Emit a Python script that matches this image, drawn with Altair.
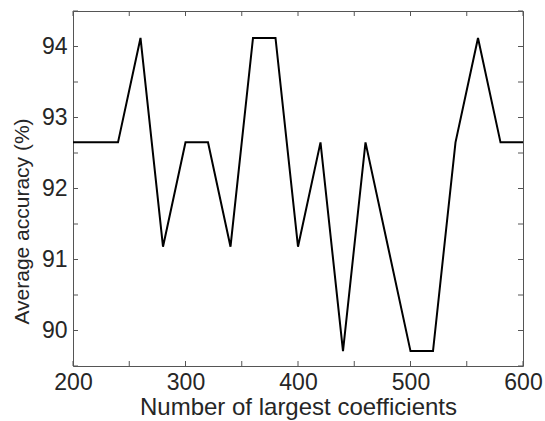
import altair as alt
import pandas as pd

# data
n_coeffs = [200, 220, 240, 260, 280, 300, 320, 340, 360, 380, 400,
            420, 440, 460, 480, 500, 520, 540, 560, 580, 600]
accuracy = [92.65, 92.65, 92.65, 94.12, 91.18, 92.65, 92.65, 91.18, 94.12, 94.12, 91.18,
            92.65, 89.71, 92.65, 91.18, 89.71, 89.71, 92.65, 94.12, 92.65, 92.65]
x_ticks = [200, 250, 300, 350, 400, 450, 500, 550, 600]
x_labels = [200, 300, 400, 500, 600]
y_ticks = [89.5, 90, 90.5, 91, 91.5, 92, 92.5, 93, 93.5, 94, 94.5]
y_labels = [90, 91, 92, 93, 94]

W, H = 450, 355
TL = 5
FONT = "Liberation Sans"
TXT = "#262626"
AX = "#555555"

df = pd.DataFrame({"n": n_coeffs, "acc": accuracy})
dx = pd.DataFrame({"n": x_ticks})
dy = pd.DataFrame({"acc": y_ticks})

xs = alt.Scale(domain=[200, 600], nice=False, zero=False)
ys = alt.Scale(domain=[89.5, 94.5], nice=False, zero=False)

x_axis = alt.Axis(
    title="Number of largest coefficients", values=x_labels, format="d",
    ticks=False, grid=False, domain=False, labelPadding=5,
    labelFontSize=23, titleFontSize=24, titlePadding=1,
    labelFont=FONT, titleFont=FONT, labelColor=TXT, titleColor=TXT,
    titleFontWeight="normal", labelFlush=False)
y_axis = alt.Axis(
    title="Average accuracy (%)", values=y_labels, format="d",
    ticks=False, grid=False, domain=False, labelPadding=6,
    labelFontSize=23, titleFontSize=21, titleX=-45, titleY=210,
    titleAngle=270, titleAlign="center", titleBaseline="alphabetic",
    labelFont=FONT, titleFont=FONT, labelColor=TXT, titleColor=TXT,
    titleFontWeight="normal", labelFlush=False)

line = alt.Chart(df).mark_line(color="black", strokeWidth=2).encode(
    x=alt.X("n:Q", scale=xs, axis=x_axis),
    y=alt.Y("acc:Q", scale=ys, axis=y_axis),
)

bottom = alt.Chart(dx).mark_rule(color=AX, strokeWidth=1).encode(
    x=alt.X("n:Q", scale=xs, axis=x_axis), y=alt.value(H - TL), y2=alt.value(H))
top = alt.Chart(dx).mark_rule(color=AX, strokeWidth=1).encode(
    x=alt.X("n:Q", scale=xs, axis=x_axis), y=alt.value(0), y2=alt.value(TL))
left = alt.Chart(dy).mark_rule(color=AX, strokeWidth=1).encode(
    y=alt.Y("acc:Q", scale=ys, axis=y_axis), x=alt.value(0), x2=alt.value(TL))
right = alt.Chart(dy).mark_rule(color=AX, strokeWidth=1).encode(
    y=alt.Y("acc:Q", scale=ys, axis=y_axis), x=alt.value(W - TL), x2=alt.value(W))

chart = alt.layer(line, bottom, top, left, right).properties(
    width=W, height=H,
    autosize=alt.AutoSizeParams(type="none"),
    padding={"left": 73, "top": 11, "right": 22, "bottom": 55},
    background="white",
).configure_view(stroke=AX, strokeWidth=1)

chart.save("out.html", embed_options={"renderer": "svg", "actions": False})
